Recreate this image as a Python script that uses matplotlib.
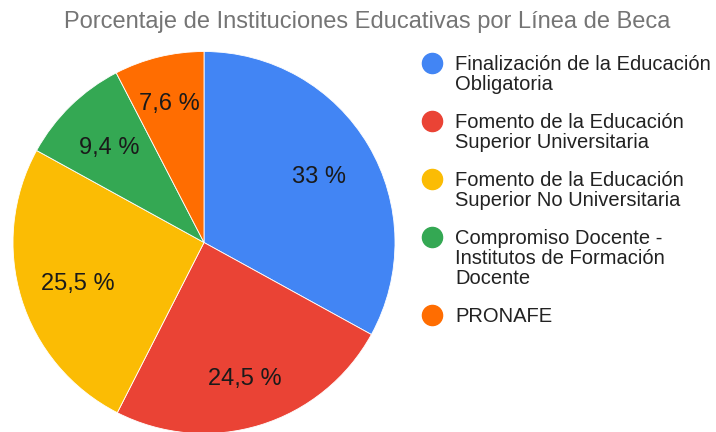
import numpy as np
import matplotlib
matplotlib.use("Agg")
import matplotlib.pyplot as plt
from matplotlib.transforms import offset_copy

plt.rcParams['font.family'] = ['Liberation Sans', 'DejaVu Sans']

title = "Porcentaje de Instituciones Educativas por Línea de Beca"
categories = [
    "Finalización de la Educación\nObligatoria",
    "Fomento de la Educación\nSuperior Universitaria",
    "Fomento de la Educación\nSuperior No Universitaria",
    "Compromiso Docente -\nInstitutos de Formación\nDocente",
    "PRONAFE",
]
values = [33.0, 24.5, 25.5, 9.4, 7.6]
colors = ["#4285F4", "#EA4335", "#FBBC04", "#34A853", "#FF6D01"]

# layout: label radial distance (fraction of radius) per slice
label_dist = [0.70, 0.733, 0.69, 0.707, 0.76]

W, H = 716, 432
fig = plt.figure(figsize=(W / 100, H / 100), dpi=100)

cx, cy, r = 204, 242.5, 191
ax = fig.add_axes([(cx - r) / W, (H - cy - r) / H, 2 * r / W, 2 * r / H])

wedges, texts = ax.pie(
    values, colors=colors, startangle=90, counterclock=False, radius=1.0,
    wedgeprops=dict(edgecolor='white', linewidth=0.6))
ax.set_xlim(-1, 1)
ax.set_ylim(-1, 1)
ax.set_aspect('equal')
ax.axis('off')

def fmt(v):
    s = f"{v:.1f}".rstrip('0').rstrip('.')
    return s.replace('.', ',') + " %"

trans = offset_copy(ax.transData, fig=fig, x=0, y=-8.3, units='dots')
for w, v, d in zip(wedges, values, label_dist):
    ang = np.deg2rad((w.theta1 + w.theta2) / 2)
    ax.text(d * np.cos(ang), d * np.sin(ang), fmt(v), transform=trans,
            ha='center', va='baseline', fontsize=17, color='#1a1a1a')

fig.text(367 / W, 1 - 22 / H, title, ha='center', va='center',
         fontsize=17, color='#757575')

# legend
lax = fig.add_axes([0, 0, 1, 1])
lax.set_xlim(0, W)
lax.set_ylim(H, 0)
lax.axis('off')
lax.patch.set_alpha(0)
ys = [63, 121, 179, 237, 315]
pitch = 20
for lab, col, y in zip(categories, colors, ys):
    lax.plot([432], [y], 'o', ms=14.5, color=col, mec=col)
    for i, line in enumerate(lab.split("\n")):
        lax.text(455, y + 7.5 + i * pitch, line, ha='left', va='baseline',
                 fontsize=14.5, color='#222222')

fig.savefig("out.png", dpi=100)
